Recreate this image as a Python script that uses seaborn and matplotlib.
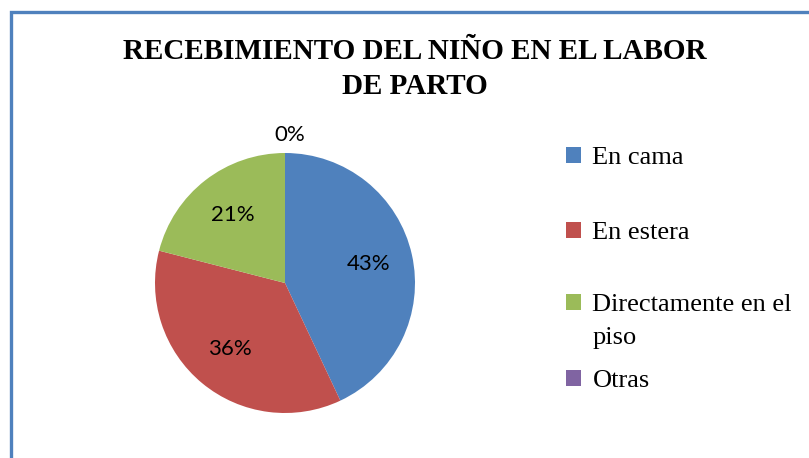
import numpy as np
import seaborn as sns
import matplotlib.pyplot as plt
from matplotlib.patches import Rectangle

# data
categorias = ['En cama', 'En estera', 'Directamente en el\npiso', 'Otras']
porcentajes = [43, 36, 21, 0]
colores = ['#4F81BD', '#C0504D', '#9BBB59', '#8064A2']
titulo = 'RECEBIMIENTO DEL NIÑO EN EL LABOR\nDE PARTO'

sns.set_style("white")
plt.rcParams['text.color'] = 'black'

fig = plt.figure(figsize=(8.09, 4.58), dpi=100)
W, H = 809, 458
# pie axes: centre (285,283) px, radius 130 px
ax = fig.add_axes([(285 - 130) / W, (H - 283 - 130) / H, 260 / W, 260 / H])

wedges, texts, autotexts = ax.pie(porcentajes, colors=colores, startangle=90,
                                  counterclock=False, autopct='%1.0f%%',
                                  pctdistance=0.66,
                                  wedgeprops={'linewidth': 0},
                                  textprops={'fontsize': 16, 'family': 'Lato',
                                             'color': 'black'})
# the 0% label sits outside the pie
w0 = wedges[3]
ang = np.deg2rad((w0.theta1 + w0.theta2) / 2)
autotexts[3].set_position((1.14 * np.cos(ang) + 0.04, 1.14 * np.sin(ang)))
ax.set_xlim(-1, 1)
ax.set_ylim(-1, 1)
ax.set_aspect('equal')
ax.axis('off')

fig.text(415 / W, 1 - 69 / H, titulo, ha='center', va='center',
         fontsize=21, fontweight='bold', family='Liberation Serif',
         color='black', linespacing=1.35)

# legend entries, one per row as in the original layout
fuente = {'family': 'Liberation Serif', 'size': 19}
filas_y = [158, 233, 305, 381]
for w, lab, yy in zip(wedges, categorias, filas_y):
    lineas = lab.split('\n')
    leg = fig.legend([w], [lineas[0]], loc='center left',
                     bbox_to_anchor=(566 / W, 1 - yy / H), frameon=False,
                     prop=fuente, handlelength=0.55, handleheight=0.55,
                     handletextpad=0.45, borderaxespad=0, borderpad=0)
    if len(lineas) > 1:
        # wrapped rest of the label, aligned under the legend text
        fig.canvas.draw()
        bb = leg.get_texts()[0].get_window_extent()
        fig.text(bb.x0 / W, (bb.y0 - 33) / H, '\n'.join(lineas[1:]),
                 fontdict=fuente, color='black', va='bottom')

# blue chart frame (left and top edges visible)
fig.patches.append(Rectangle((10.5 / W, -0.2), 1.2, 1.2 - 11.5 / H,
                             transform=fig.transFigure, fill=False,
                             edgecolor='#4F81BD', linewidth=2.4))

fig.savefig('out.png', dpi=100)
